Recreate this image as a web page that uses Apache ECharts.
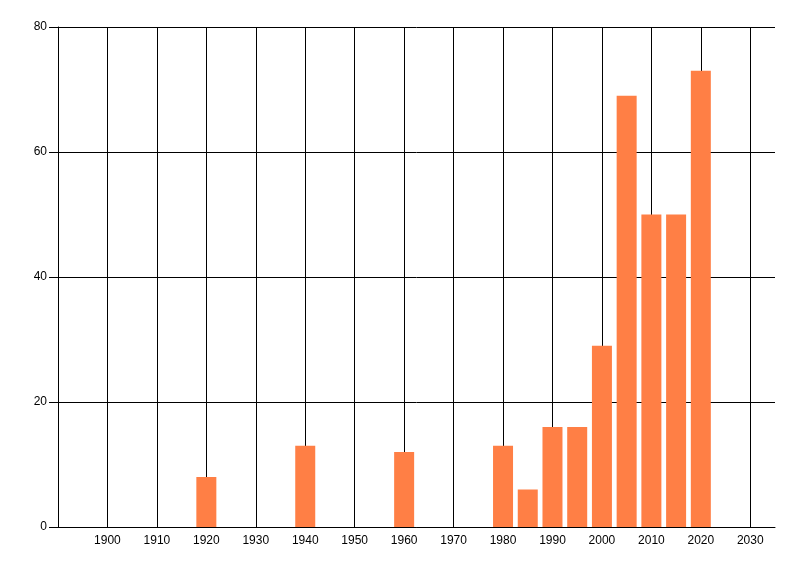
<!DOCTYPE html>
<html>
<head>
<meta charset="utf-8">
<script src="https://cdn.jsdelivr.net/npm/echarts@6/dist/echarts.min.js"></script>
<style>
html,body{margin:0;padding:0;background:#fff;}
#chart{width:800px;height:576px;}
</style>
</head>
<body>
<div id="chart"></div>
<script>
const years = [1920, 1940, 1960, 1980, 1985, 1990, 1995, 2000, 2005, 2010, 2015, 2020];
const counts = [8, 13, 12, 13, 6, 16, 16, 29, 69, 50, 50, 73];
const xTickLabels = ['1900','1910','1920','1930','1940','1950','1960','1970','1980','1990','2000','2010','2020','2030'];

const chart = echarts.init(document.getElementById('chart'), null, {renderer: 'canvas'});
const font = {fontFamily: 'Liberation Sans', fontSize: 12, color: '#000'};
chart.setOption({
  animation: false,
  backgroundColor: '#fff',
  grid: {left: 58, right: 25, top: 27, bottom: 49, containLabel: false},
  xAxis: {
    type: 'value',
    min: 1890, max: 2035, interval: 10,
    axisLine: {show: true, lineStyle: {color: '#000', width: 1}},
    axisTick: {show: false},
    splitLine: {show: true, showMinLine: false, showMaxLine: false, lineStyle: {color: '#000', width: 1}},
    axisLabel: Object.assign({
      margin: 8,
      showMinLabel: true, showMaxLabel: true,
      formatter: v => xTickLabels.indexOf(String(v)) >= 0 ? String(v) : ''
    }, font)
  },
  yAxis: {
    type: 'value',
    min: 0, max: 80, interval: 20,
    axisLine: {show: true, lineStyle: {color: '#000', width: 1}},
    axisTick: {show: true, length: 9, lineStyle: {color: '#000'}},
    splitLine: {show: true, lineStyle: {color: '#000', width: 1}},
    axisLabel: Object.assign({margin: 11}, font)
  },
  series: [{
    type: 'bar',
    barWidth: 20,
    itemStyle: {color: '#FF7F45'},
    data: years.map((y, i) => [y, counts[i]])
  }]
});
</script>
</body>
</html>
